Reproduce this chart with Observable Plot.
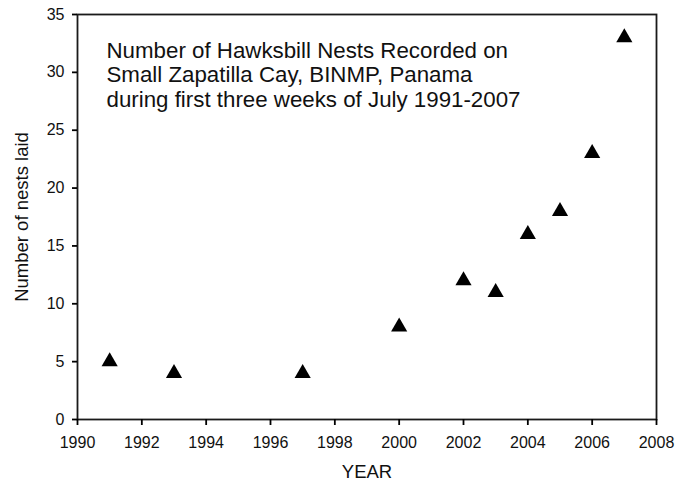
<!DOCTYPE html>
<html><head><meta charset="utf-8">
<script src="https://cdn.jsdelivr.net/npm/d3@7"></script>
<script src="https://cdn.jsdelivr.net/npm/@observablehq/plot@0.6"></script>
<style>
body{margin:0;background:#fff}
svg{font-family:"Liberation Sans",Arial,sans-serif}
</style>
</head><body><div id="chart"></div>
<script>
const years = [1991, 1993, 1997, 2000, 2002, 2003, 2004, 2005, 2006, 2007];
const nests = [5, 4, 4, 8, 12, 11, 16, 18, 23, 33];
const xTicks = [1990, 1992, 1994, 1996, 1998, 2000, 2002, 2004, 2006, 2008];
const yTicks = [0, 5, 10, 15, 20, 25, 30, 35];
const noteLines = [
  "Number of Hawksbill Nests Recorded on",
  "Small Zapatilla Cay, BINMP, Panama",
  "during first three weeks of July 1991-2007"
];
const xLabel = "YEAR";
const yLabel = "Number of nests laid";

const data = years.map((y, i) => ({year: y, nests: nests[i]}));

const chart = Plot.plot({
  width: 689,
  height: 482,
  marginLeft: 77,
  marginRight: 33,
  marginTop: 14,
  marginBottom: 63,
  style: {fontFamily: '"Liberation Sans", Arial, sans-serif', fontSize: "16px", color: "#000", background: "#fff"},
  x: {domain: [1990, 2008]},
  y: {domain: [0, 35]},
  marks: [
    Plot.frame({stroke: "#1a1a1a", strokeWidth: 1.8}),
    Plot.axisX({ticks: xTicks, tickFormat: "d", tickSize: 6, tickPadding: 11, strokeWidth: 1.8,
      label: null, fontSize: 16, fill: "#111"}),
    Plot.axisY({ticks: yTicks, tickSize: 5, tickPadding: 8, strokeWidth: 1.8,
      label: null, fontSize: 16, fill: "#111"}),
    Plot.text([xLabel], {frameAnchor: "bottom", dy: 45, lineAnchor: "top", textAnchor: "middle",
      fontSize: 18.5, fill: "#111"}),
    Plot.text([yLabel], {frameAnchor: "left", dx: -55, rotate: -90, lineAnchor: "middle", textAnchor: "middle",
      fontSize: 18.5, fill: "#111"}),
    Plot.dot(data, {x: "year", y: "nests", symbol: "triangle", r: 6, fill: "#000", stroke: "none"}),
    Plot.text([noteLines.join("\n")], {frameAnchor: "top-left", dx: 29, dy: 26, textAnchor: "start",
      lineAnchor: "top", lineHeight: 1.1, fontSize: 22.3, fill: "#111"})
  ]
});
document.getElementById("chart").appendChild(chart);
</script>
</body></html>
